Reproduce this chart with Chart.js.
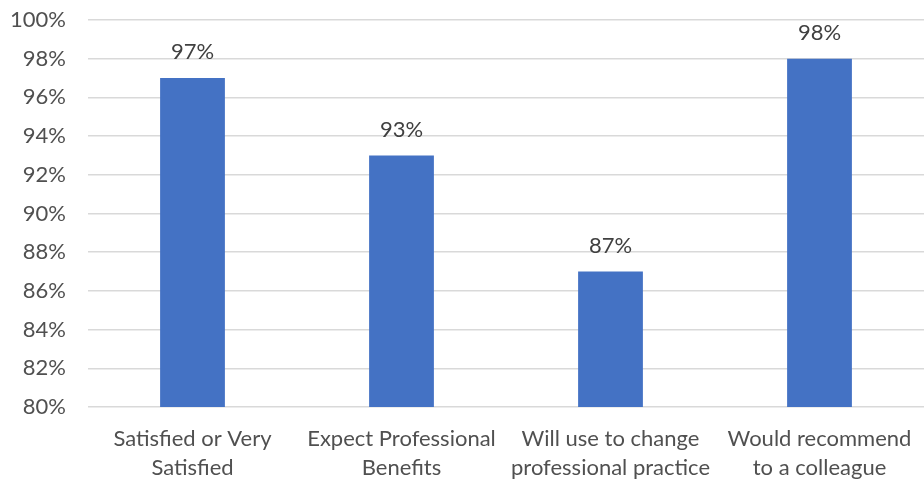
<!DOCTYPE html>
<html>
<head>
<meta charset="utf-8">
<script src="https://cdn.jsdelivr.net/npm/chart.js@4.4.1/dist/chart.umd.min.js"></script>
<style>
  html, body { margin: 0; padding: 0; background: #ffffff; }
  #wrap { width: 924px; height: 484px; position: relative; }
</style>
</head>
<body>
<div id="wrap"><canvas id="c"></canvas></div>
<script>
const categories = [
  ["Satisfied or Very", "Satisfied"],
  ["Expect Professional", "Benefits"],
  ["Will use to change", "professional practice"],
  ["Would recommend", "to a colleague"]
];
const values = [97, 93, 87, 98];
const yMin = 80;
const yMax = 100;
const yStep = 2;

const FONT = "Lato, 'Liberation Sans', sans-serif";

const dataLabels = {
  id: 'dataLabels',
  afterDatasetsDraw(chart) {
    const ctx = chart.ctx;
    const meta = chart.getDatasetMeta(0);
    ctx.save();
    ctx.font = "22px " + FONT;
    ctx.fillStyle = '#404040';
    ctx.textAlign = 'center';
    ctx.textBaseline = 'middle';
    meta.data.forEach((bar, i) => {
      ctx.fillText(values[i] + '%', bar.x, bar.y - 26);
    });
    ctx.restore();
  }
};

new Chart(document.getElementById('c'), {
  type: 'bar',
  data: {
    labels: categories,
    datasets: [{
      data: values,
      backgroundColor: '#4472c4',
      borderWidth: 0,
      categoryPercentage: 1,
      barPercentage: 0.31
    }]
  },
  options: {
    responsive: true,
    maintainAspectRatio: false,
    animation: false,
    devicePixelRatio: 1,
    layout: { padding: { top: 20, right: 0, bottom: 0, left: 0 } },
    plugins: { legend: { display: false }, tooltip: { enabled: false } },
    scales: {
      x: {
        grid: { display: false, drawTicks: false },
        border: { display: false },
        ticks: {
          color: '#505050',
          font: { family: FONT, size: 22, lineHeight: 1.32 },
          padding: 17,
          maxRotation: 0,
          autoSkip: false
        },
        afterFit(scale) {
          scale.height = 77;
          scale.paddingLeft = 0;
          scale.paddingRight = 0;
        }
      },
      y: {
        min: yMin,
        max: yMax,
        grid: { color: '#d9d9d9', lineWidth: 1.5, drawTicks: false },
        border: { display: false },
        ticks: {
          stepSize: yStep,
          color: '#505050',
          font: { family: FONT, size: 22 },
          padding: 22,
          callback: v => v + '%'
        },
        afterFit(scale) {
          scale.width = 88;
          scale.paddingTop = 0;
          scale.paddingBottom = 0;
        }
      }
    }
  },
  plugins: [dataLabels]
});
</script>
</body>
</html>
